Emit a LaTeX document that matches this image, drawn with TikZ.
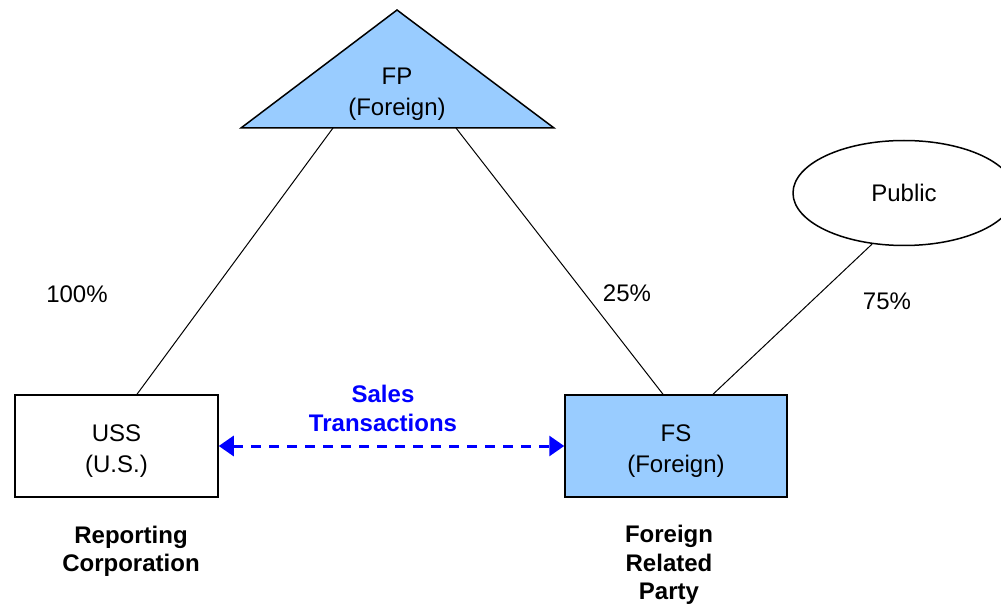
\documentclass[tikz,border=0pt]{standalone}
\usepackage{fontspec}
\setmainfont{Liberation Sans}
\definecolor{FillBlue}{HTML}{99CCFF}
\definecolor{TxBlue}{HTML}{0000FF}
\usetikzlibrary{positioning, arrows.meta, shapes.geometric, calc}

\begin{document}
\begin{tikzpicture}[
  x=0.5pt, y=-0.5pt,
  ent/.style={draw, line width=0.75pt, align=center, font=\fontsize{12}{15}\selectfont},
  txt/.style={align=center, font=\fontsize{12}{15.7}\selectfont},
  lbl/.style={align=center, font=\fontsize{12}{14.2}\selectfont\bfseries},
  pct/.style={font=\fontsize{12}{15}\selectfont},
  own/.style={draw, line width=0.5pt},
  sales/.style={draw=TxBlue, line width=1.5pt, dash pattern=on 5pt off 4pt,
    {Triangle[length=7.5pt, width=10pt]}-{Triangle[length=7.5pt, width=10pt]}},
]
  \useasboundingbox (0,0) rectangle (1001,604);
  \clip (0,0) rectangle (1001,604);

  % Parent (triangle)
  \draw[fill=FillBlue, line width=0.75pt] (397,10) -- (554,128) -- (241,128) -- cycle;
  \node[txt] (fp) at (397,94) {FP\\(Foreign)};
  \coordinate (fpL) at (333,128);
  \coordinate (fpR) at (456,128);

  % Public shareholders
  \node[ent, ellipse, minimum width=111pt, minimum height=52.5pt, inner sep=0pt] (pub) at (904,193) {Public};

  % Subsidiaries
  \node[ent, minimum width=101.5pt, minimum height=51pt] (uss) at (116.5,446) {};
  \node[txt] (usstx) at (116.5,451) {USS\\(U.S.)};
  \node[ent, fill=FillBlue, minimum width=111pt, minimum height=51pt] (fs) at (676,446) {};
  \node[txt] (fstx) at (676,451) {FS\\(Foreign)};

  % Ownership lines
  \draw[own] (fpL) -- ($(uss.north)+(20.5,0)$);
  \draw[own] (fpR) -- ($(fs.north)+(-13,0)$);
  \draw[own] (pub.238) -- ($(fs.north)+(37,0)$);
  \node[pct] (p100) at (77,294) {100\%};
  \node[pct] (p25) at (627,293) {25\%};
  \node[pct] (p75) at (887,301) {75\%};

  % Transactions
  \draw[sales] (uss.east) -- (fs.west);
  \node[lbl, text=TxBlue] (tx) at (383,408.5) {Sales\\Transactions};

  % Roles
  \node[lbl] (rep) at (131,551) {Reporting\\Corporation};
  \node[lbl] (frp) at (669,565) {Foreign\\Related\\Party};
\end{tikzpicture}
\end{document}
